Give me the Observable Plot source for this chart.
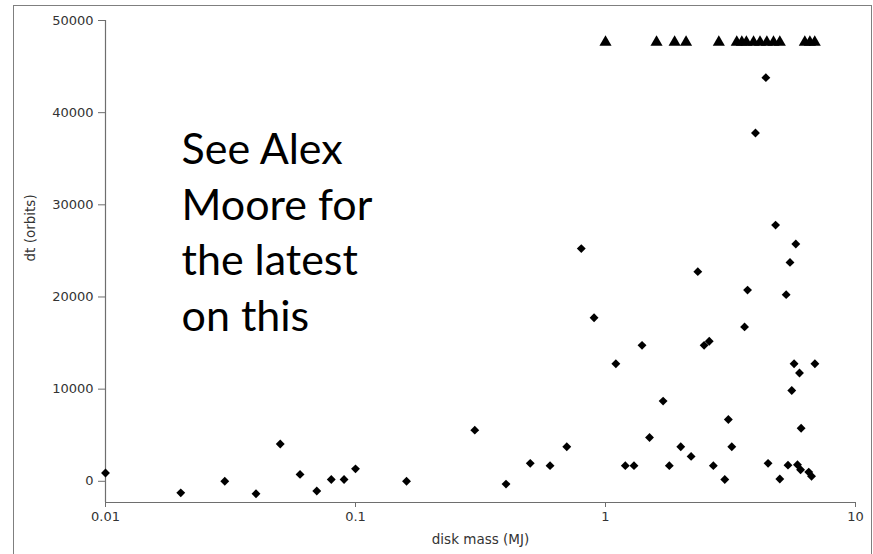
<!DOCTYPE html>
<html>
<head>
<meta charset="utf-8">
<script src="https://cdn.jsdelivr.net/npm/d3@7"></script>
<script src="https://cdn.jsdelivr.net/npm/@observablehq/plot@0.6"></script>
<style>
  body { margin: 0; background: #fff; }
  #wrap { position: relative; width: 873px; height: 554px; overflow: hidden; }
  #border { position: absolute; left: 13px; top: 5px; width: 859px; height: 620px;
            border: 1px solid #7f7f7f; box-sizing: border-box; }
  #chart { position: absolute; left: 0; top: 0; }
</style>
</head>
<body>
<div id="wrap"><div id="border"></div><div id="chart"></div></div>
<script>
// Runs that ended: disk mass (MJ) and time until the event (orbits)
const diskMass = [
  0.01, 0.02, 0.03, 0.04, 0.05, 0.06, 0.07, 0.08, 0.09, 0.1,
  0.16, 0.3, 0.4, 0.5, 0.6, 0.7, 0.8, 0.9, 1.1, 1.2,
  1.3, 1.4, 1.5, 1.7, 1.8, 2.0, 2.2, 2.34, 2.48, 2.6,
  2.7, 3.0, 3.1, 3.2, 3.6, 3.7, 3.98, 4.38, 4.47, 4.79,
  4.98, 5.28, 5.37, 5.47, 5.56, 5.68, 5.77, 5.86, 5.97, 6.03,
  6.06, 6.5, 6.67, 6.88
];
const dtOrbits = [
  900, -1250, 0, -1350, 4050, 750, -1050, 200, 200, 1350,
  0, 5550, -300, 1950, 1700, 3750, 25250, 17750, 12750, 1700,
  1700, 14750, 4750, 8700, 1700, 3750, 2700, 22750, 14750, 15200,
  1700, 200, 6700, 3750, 16750, 20750, 37800, 43800, 1950, 27800,
  250, 20250, 1750, 23750, 9850, 12750, 25750, 1800, 11750, 1250,
  5750, 1000, 550, 12750
];

// Runs still going at the end of the simulation (shown as triangles at the top)
const openMass = [
  1.0, 1.6, 1.89, 2.1, 2.84, 3.35, 3.51, 3.66, 3.91, 4.15,
  4.42, 4.70, 4.98, 6.27, 6.57, 6.87
];
const openDt = 47650;

// Axis settings
const xTicks = [0.01, 0.1, 1, 10];
const yTicks = [0, 10000, 20000, 30000, 40000, 50000];
const xDomain = [0.01, 10];
const yDomain = [-2300, 50000];

const noteLines = ["See Alex", "Moore for", "the latest", "on this"];

const points = diskMass.map((m, i) => ({mass: m, dt: dtOrbits[i]}));
const open = openMass.map(m => ({mass: m, dt: openDt}));

const axisColor = "#6e6e6e";
const textColor = "#333";
const font = "DejaVu Sans, sans-serif";

const chart = Plot.plot({
  width: 873,
  height: 554,
  marginLeft: 105,
  marginRight: 18,
  marginTop: 20,
  marginBottom: 52,
  style: {fontFamily: font, background: "transparent"},
  x: {type: "log", domain: xDomain},
  y: {domain: yDomain},
  marks: [
    Plot.ruleY([yDomain[0]], {stroke: axisColor, strokeWidth: 1.2}),
    Plot.ruleX([xDomain[0]], {stroke: axisColor, strokeWidth: 1.2}),
    Plot.axisX({
      ticks: xTicks, tickFormat: d => String(d), tickSize: 5, tickPadding: 4,
      fontSize: 13, fill: textColor, stroke: axisColor, label: null
    }),
    Plot.axisY({
      ticks: yTicks, tickFormat: d => String(d), tickSize: 7, tickPadding: 5,
      fontSize: 13, fill: textColor, stroke: axisColor, label: null
    }),
    Plot.text(["disk mass (MJ)"], {
      frameAnchor: "bottom", dy: 37, lineAnchor: "middle",
      fontSize: 13.5, fill: textColor
    }),
    Plot.text(["dt (orbits)"], {
      frameAnchor: "left", dx: -75, rotate: -90, lineAnchor: "middle",
      fontSize: 13.5, fill: textColor
    }),
    Plot.dot(points, {
      x: "mass", y: "dt", symbol: "diamond2", r: 4, fill: "black", stroke: null
    }),
    Plot.dot(open, {
      x: "mass", y: "dt", symbol: "triangle", r: 4.5, fill: "black", stroke: null
    }),
    Plot.text([noteLines.join("\n")], {
      frameAnchor: "top-left", dx: 76, dy: 104, lineAnchor: "top",
      textAnchor: "start", lineHeight: 1.295,
      fontSize: 43, fontFamily: "Lato, 'Open Sans', sans-serif", fill: "#000"
    })
  ]
});

document.getElementById("chart").appendChild(chart);
</script>
</body>
</html>
